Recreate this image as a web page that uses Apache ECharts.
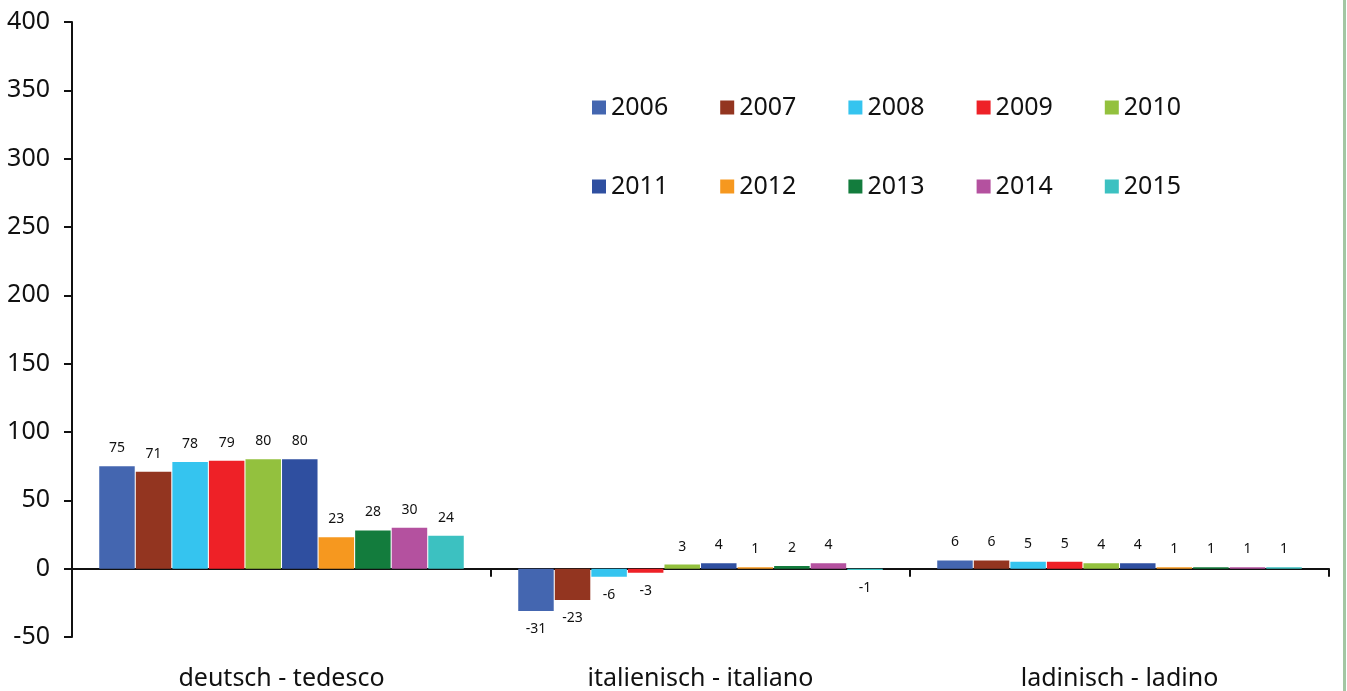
<!DOCTYPE html>
<html>
<head>
<meta charset="utf-8">
<script src="https://cdn.jsdelivr.net/npm/echarts@6/dist/echarts.min.js"></script>
<style>
  html, body { margin: 0; padding: 0; background: #fff; }
  #chart { width: 1347px; height: 691px; }
</style>
</head>
<body>
<div id="chart"></div>
<script>
const categories = ['deutsch - tedesco', 'italienisch - italiano', 'ladinisch - ladino']
const years = ['2006', '2007', '2008', '2009', '2010', '2011', '2012', '2013', '2014', '2015']
const colors = ['#4466b0', '#933520', '#35c4ef', '#ee2127', '#93c13e', '#2f4fa0', '#f6981f', '#137c3d', '#b4519f', '#3cc1c1']
// values per year: [deutsch, italienisch, ladinisch]
const v2006 = [75, -31, 6]
const v2007 = [71, -23, 6]
const v2008 = [78, -6, 5]
const v2009 = [79, -3, 5]
const v2010 = [80, 3, 4]
const v2011 = [80, 4, 4]
const v2012 = [23, 1, 1]
const v2013 = [28, 2, 1]
const v2014 = [30, 4, 1]
const v2015 = [24, -1, 1]
const yearValues = [v2006, v2007, v2008, v2009, v2010, v2011, v2012, v2013, v2014, v2015]

const font = 'Noto Sans'
const chart = echarts.init(document.getElementById('chart'))

const series = years.map((y, i) => ({
  name: y,
  type: 'bar',
  xAxisIndex: 0,
  barGap: '3%',
  barCategoryGap: '13%',
  itemStyle: { color: colors[i] },
  data: yearValues[i].map(v => ({
    value: v,
    label: {
      show: true,
      position: v < 0 ? 'bottom' : 'top',
      distance: 11,
      color: '#111',
      fontSize: 14,
      fontFamily: font
    }
  }))
}))

const legendCommon = {
  left: 587,
  itemWidth: 14,
  itemHeight: 14,
  itemGap: 52,
  icon: 'rect',
  textStyle: { fontSize: 25, fontFamily: font, color: '#111' }
}

const option = {
  animation: false,
  color: colors,
  grid: { left: 72, right: 18, top: 22, bottom: 54, containLabel: false, outerBoundsMode: 'none' },
  legend: [
    Object.assign({ top: 90, data: years.slice(0, 5) }, legendCommon),
    Object.assign({ top: 169, data: years.slice(5) }, legendCommon)
  ],
  xAxis: [
    {
      type: 'category',
      data: categories,
      axisLine: { onZero: true, lineStyle: { color: '#111', width: 2 } },
      axisTick: { show: true, length: 8, lineStyle: { color: '#111', width: 2 } },
      axisLabel: { show: false }
    },
    {
      type: 'category',
      data: categories,
      position: 'bottom',
      axisLine: { show: false, onZero: false },
      axisTick: { show: false },
      axisLabel: { margin: 29, fontSize: 25, fontFamily: font, color: '#111' }
    }
  ],
  yAxis: {
    type: 'value',
    min: -50,
    max: 400,
    interval: 50,
    splitLine: { show: false },
    axisLine: { show: true, lineStyle: { color: '#111', width: 2 } },
    axisTick: { show: true, length: 8, lineStyle: { color: '#111', width: 2 } },
    axisLabel: { margin: 22, fontSize: 25, fontFamily: font, color: '#111' }
  },
  graphic: [
    { type: 'rect', left: 1343, top: 0, shape: { width: 3, height: 691 }, style: { fill: '#a3c6a3' } }
  ],
  series: series
}
chart.setOption(option)
</script>
</body>
</html>
